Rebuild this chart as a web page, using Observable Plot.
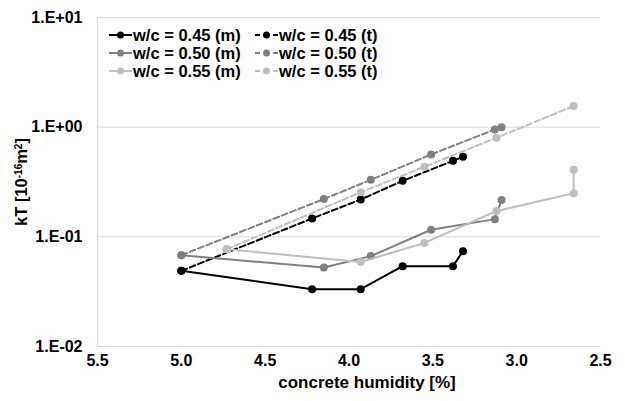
<!DOCTYPE html>
<html>
<head>
<meta charset="utf-8">
<script src="https://cdn.jsdelivr.net/npm/d3@7"></script>
<script src="https://cdn.jsdelivr.net/npm/@observablehq/plot@0.6"></script>
<style>
  body { margin: 0; background: #fff; }
  #wrap { position: relative; width: 625px; height: 401px; font-family: "Liberation Sans", Arial, sans-serif; }
  #legend { position: absolute; left: 0; top: 0; font-weight: bold; font-size: 16.5px; color: #000; }
  .item { position: absolute; display: flex; align-items: center; white-space: nowrap; height: 18px; }
  .item svg { display: block; margin-right: 1px; }
</style>
</head>
<body>
<div id="wrap"><div id="legend"></div></div>
<script>
// ---- data ----
const humidity045 = [5.0, 4.22, 3.93, 3.68, 3.38, 3.32];
const kT045m = [0.049, 0.0333, 0.0333, 0.054, 0.054, 0.074];
const kT045t = [0.049, 0.147, 0.219, 0.324, 0.493, 0.536];

const humidity050 = [5.0, 4.15, 3.87, 3.51, 3.13, 3.09];
const kT050m = [0.068, 0.0525, 0.0667, 0.116, 0.145, 0.217];
const kT050t = [0.068, 0.221, 0.331, 0.564, 0.953, 1.0];

const humidity055m = [4.73, 3.93, 3.55, 3.12, 2.66, 2.66];
const kT055m = [0.077, 0.059, 0.088, 0.172, 0.25, 0.41];
const humidity055t = [4.73, 3.93, 3.55, 3.12, 2.66];
const kT055t = [0.077, 0.255, 0.435, 0.80, 1.56];

const seriesNames = ["w/c = 0.45 (m)", "w/c = 0.45 (t)", "w/c = 0.50 (m)", "w/c = 0.50 (t)", "w/c = 0.55 (m)", "w/c = 0.55 (t)"];
const seriesColors = ["#000000", "#000000", "#808080", "#808080", "#bfbfbf", "#bfbfbf"];
const seriesDashed = [false, true, false, true, false, true];

const xTicks = [5.5, 5.0, 4.5, 4.0, 3.5, 3.0, 2.5];
const yTicks = [0.01, 0.1, 1, 10];

const seriesX = [humidity045, humidity045, humidity050, humidity050, humidity055m, humidity055t];
const seriesY = [kT045m, kT045t, kT050m, kT050t, kT055m, kT055t];

const series = seriesNames.map((name, i) => ({
  name, color: seriesColors[i], dashed: seriesDashed[i],
  data: seriesX[i].map((x, j) => ({x, y: seriesY[i][j]}))
}));

const fmtE = d => {
  const e = Math.round(Math.log10(d));
  return "1.E" + (e >= 0 ? "+" : "-") + String(Math.abs(e)).padStart(2, "0");
};

const marks = [
  Plot.ruleY(yTicks.slice(1), {stroke: "#d9d9d9", strokeWidth: 1}),
  Plot.ruleY([0.01], {stroke: "#d9d9d9", strokeWidth: 1}),
  Plot.ruleX([5.5], {stroke: "#d9d9d9", strokeWidth: 1}),
  Plot.axisX({ticks: xTicks, tickFormat: d => d.toFixed(1), tickSize: 0, tickPadding: 8, fontSize: 16, fontWeight: "bold", label: null}),
  Plot.axisY({ticks: yTicks, tickFormat: fmtE, tickSize: 0, tickPadding: 15, fontSize: 16, fontWeight: "bold",
    label: "kT [10-16m2]", labelAnchor: "center", labelArrow: "none", labelOffset: 82}),
  Plot.text(["concrete humidity [%]"], {frameAnchor: "bottom", dx: 18, dy: 41, fontSize: 17, fontWeight: "bold", fill: "#000"})
];
for (const s of series) {
  marks.push(Plot.line(s.data, {x: "x", y: "y", stroke: s.color, strokeWidth: 2,
    strokeDasharray: s.dashed ? "6,3" : null}));
  marks.push(Plot.dot(s.data, {x: "x", y: "y", r: 4, fill: s.color, stroke: "none"}));
}

const chart = Plot.plot({
  width: 625, height: 401,
  marginLeft: 97, marginRight: 25, marginTop: 17, marginBottom: 55,
  style: {fontFamily: "'Liberation Sans', Arial, sans-serif", color: "#000", background: "#fff"},
  x: {domain: [5.5, 2.5]},
  y: {type: "log", domain: [0.01, 10]},
  marks
});
document.getElementById("wrap").prepend(chart);

// superscripts in y label
const lab = d3.select(chart).select('g[aria-label="y-axis label"] text');
if (!lab.empty()) {
  lab.attr("font-size", 16.5).attr("font-weight", "bold");
  lab.text(null);
  lab.append("tspan").text("kT [10");
  lab.append("tspan").attr("baseline-shift", "super").attr("font-size", 10).text("-16");
  lab.append("tspan").text("m");
  lab.append("tspan").attr("baseline-shift", "super").attr("font-size", 10).text("2");
  lab.append("tspan").text("]");
}

// legend (HTML overlay)
const legend = document.getElementById("legend");
const colX = [109, 255];
const rowY = [26, 44, 62];
series.forEach((s, i) => {
  const div = document.createElement("div");
  div.className = "item";
  div.style.left = colX[i % 2] + "px";
  div.style.top = rowY[Math.floor(i / 2)] + "px";
  const ns = "http://www.w3.org/2000/svg";
  const sw = document.createElementNS(ns, "svg");
  sw.setAttribute("width", 23); sw.setAttribute("height", 10);
  const ln = document.createElementNS(ns, "line");
  ln.setAttribute("x1", 0); ln.setAttribute("x2", 23); ln.setAttribute("y1", 5); ln.setAttribute("y2", 5);
  ln.setAttribute("stroke", s.color); ln.setAttribute("stroke-width", 2);
  if (s.dashed) ln.setAttribute("stroke-dasharray", "5,4");
  const c = document.createElementNS(ns, "circle");
  c.setAttribute("cx", 11.5); c.setAttribute("cy", 5); c.setAttribute("r", 3.5); c.setAttribute("fill", s.color);
  sw.appendChild(ln); sw.appendChild(c);
  div.appendChild(sw);
  const t = document.createElement("span");
  t.textContent = s.name;
  div.appendChild(t);
  legend.appendChild(div);
});
</script>
</body>
</html>
